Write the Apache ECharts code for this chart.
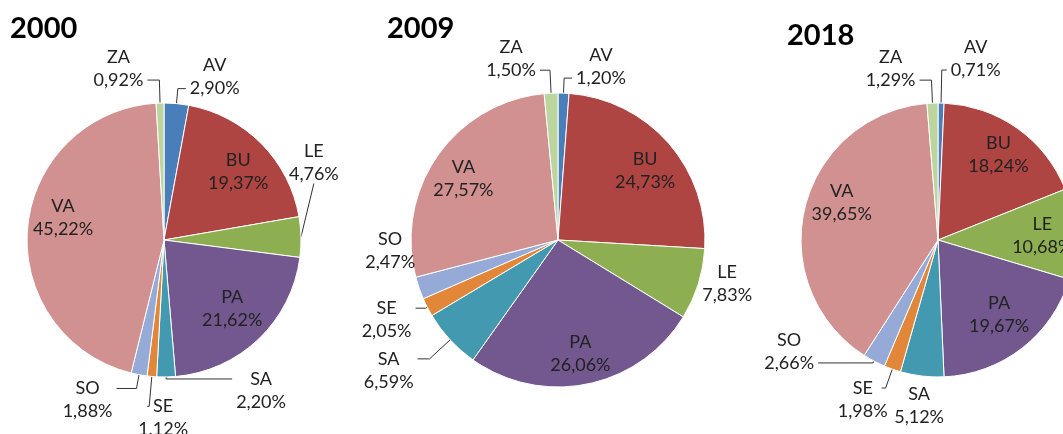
<!DOCTYPE html>
<html>
<head>
<meta charset="utf-8">
<script src="https://cdn.jsdelivr.net/npm/echarts@6/dist/echarts.min.js"></script>
<style>
html, body { margin: 0; padding: 0; background: #fff; }
#chart { width: 1063px; height: 434px; }
</style>
</head>
<body>
<div id="chart"></div>
<script>
// data (percent shares)
var categories = ['AV', 'BU', 'LE', 'PA', 'SA', 'SE', 'SO', 'VA', 'ZA'];
var years = ['2000', '2009', '2018'];
var values2000 = [2.90, 19.37, 4.76, 21.62, 2.20, 1.12, 1.88, 45.22, 0.92];
var values2009 = [1.20, 24.73, 7.83, 26.06, 6.59, 2.05, 2.47, 27.57, 1.50];
var values2018 = [0.71, 18.24, 10.68, 19.67, 5.12, 1.98, 2.66, 39.65, 1.29];
// the 2000 SE label is written with a dot in the original
var dotLabels = ['2000-SE'];

var colors = ['#4A7EBB', '#AE4542', '#8EAE52', '#72588F', '#4299B0', '#E2873A', '#95AAD6', '#D19190', '#BCD49E'];

var FONT = 'Lato, "Open Sans", sans-serif';
var LH = 23;

// label look for each pie: which slices get the label inside (with small nudges),
// and leader line setup for the rest
var pies = [
    {
        year: years[0], values: values2000, center: [164, 240], r: 137, titleAt: [5, 9],
        inner: {BU: [0, 5], PA: [-4, -7], VA: [3, -13]},
        outer: {
            AV: {len: 15, len2: 8, pad: 'bottom'},
            LE: {len: 0, len2: 0, dx: -16, dy: -74, relink: true},
            SA: {len: 2, len2: 66, pad: 'top'},
            SE: {len: 30, len2: 2, pad: 'top', dx: 45},
            SO: {len: 14, len2: 20, pad: 'top'},
            ZA: {len: 23, len2: 12, pad: 'bottom'}
        }
    },
    {
        year: years[1], values: values2009, center: [558, 240], r: 147, titleAt: [382, 9],
        inner: {BU: [3, 4], PA: [0, 4], VA: [-3, 3]},
        outer: {
            AV: {len: 15, len2: 8, pad: 'bottom'},
            LE: {len: 0, len2: 0, line: false},
            SA: {len: 28, len2: 12, pad: 'top'},
            SE: {len: 2, len2: 10, pad: 'top'},
            SO: {len: 0, len2: 0, line: false, dy: -37},
            ZA: {len: 23, len2: 10, pad: 'bottom'}
        }
    },
    {
        year: years[2], values: values2018, center: [938, 240], r: 137, titleAt: [782, 16],
        inner: {BU: [0, 0], LE: [0, 0], PA: [-3, -8], VA: [5, -12]},
        outer: {
            AV: {len: 33, len2: 5, pad: 'bottom'},
            SA: {len: 0, len2: 0, line: false, dx: 26, dy: 30},
            SE: {len: 20, len2: 4, pad: 'top', dx: 10},
            SO: {len: 2, len2: 55, pad: 'bottom'},
            ZA: {len: 23, len2: 12, pad: 'bottom'}
        }
    }
];

function labelText(year, name, v) {
    var s = v.toFixed(2) + '%';
    if (dotLabels.indexOf(year + '-' + name) < 0) s = s.replace('.', ',');
    return '{c|' + name + '}\n{c|' + s + '}';
}

var richText = {
    c: {align: 'center', fontFamily: FONT, fontSize: 18, lineHeight: LH, color: '#222'}
};

var series = [];
var titles = [];

pies.forEach(function (pie) {
    titles.push({
        text: pie.year, left: pie.titleAt[0], top: pie.titleAt[1],
        textStyle: {fontFamily: FONT, fontSize: 29, fontWeight: 'bold', color: '#000'}
    });

    // the visible pie, with the outside labels and leader lines
    series.push({
        type: 'pie',
        center: pie.center,
        radius: pie.r,
        startAngle: 90,
        clockwise: true,
        avoidLabelOverlap: false,
        animation: false,
        silent: true,
        itemStyle: {borderColor: '#fff', borderWidth: 1},
        label: {
            show: true, position: 'outside', distanceToLabelLine: 4,
            formatter: function (p) { return labelText(pie.year, p.name, p.value); },
            rich: richText
        },
        labelLine: {lineStyle: {color: '#333', width: 1}},
        labelLayout: function (p) {
            var o = pie.outer[categories[p.dataIndex]];
            if (!o || !(o.dx || o.dy)) return {};
            if (o.relink) {
                // move the label and let echarts draw the leader line again
                var r = p.labelRect;
                var x = p.align === 'right' ? r.x + r.width : (p.align === 'center' ? r.x + r.width / 2 : r.x);
                var y = r.y + r.height / 2;
                return {x: x + (o.dx || 0), y: y + (o.dy || 0)};
            }
            return {dx: o.dx || 0, dy: o.dy || 0};
        },
        data: pie.values.map(function (v, i) {
            var name = categories[i];
            var o = pie.outer[name];
            var item = {name: name, value: v, itemStyle: {color: colors[i]}};
            if (!o) {
                item.label = {show: false};
                item.labelLine = {show: false};
            } else {
                item.label = {padding: o.pad === 'top' ? [LH, 0, 0, 0] : (o.pad === 'bottom' ? [0, 0, LH, 0] : 0)};
                item.labelLine = {show: o.line !== false, length: o.len, length2: o.len2};
            }
            return item;
        })
    });

    // transparent ring on top, only to place the inside labels further out
    series.push({
        type: 'pie',
        center: pie.center,
        radius: [pie.r * 0.48, pie.r],
        startAngle: 90,
        clockwise: true,
        avoidLabelOverlap: false,
        animation: false,
        silent: true,
        z: 5,
        itemStyle: {color: 'rgba(0,0,0,0)', borderWidth: 0},
        label: {
            position: 'inside',
            formatter: function (p) { return labelText(pie.year, p.name, p.value); },
            rich: richText
        },
        labelLine: {show: false},
        labelLayout: function (p) {
            var s = pie.inner[categories[p.dataIndex]];
            return s ? {dx: s[0], dy: s[1]} : {};
        },
        data: pie.values.map(function (v, i) {
            var name = categories[i];
            return {name: name, value: v, label: {show: !!pie.inner[name]}};
        })
    });
});

var chart = echarts.init(document.getElementById('chart'));
chart.setOption({
    backgroundColor: '#fff',
    title: titles,
    series: series
});
window.onresize = function () { chart.resize(); };
</script>
</body>
</html>
